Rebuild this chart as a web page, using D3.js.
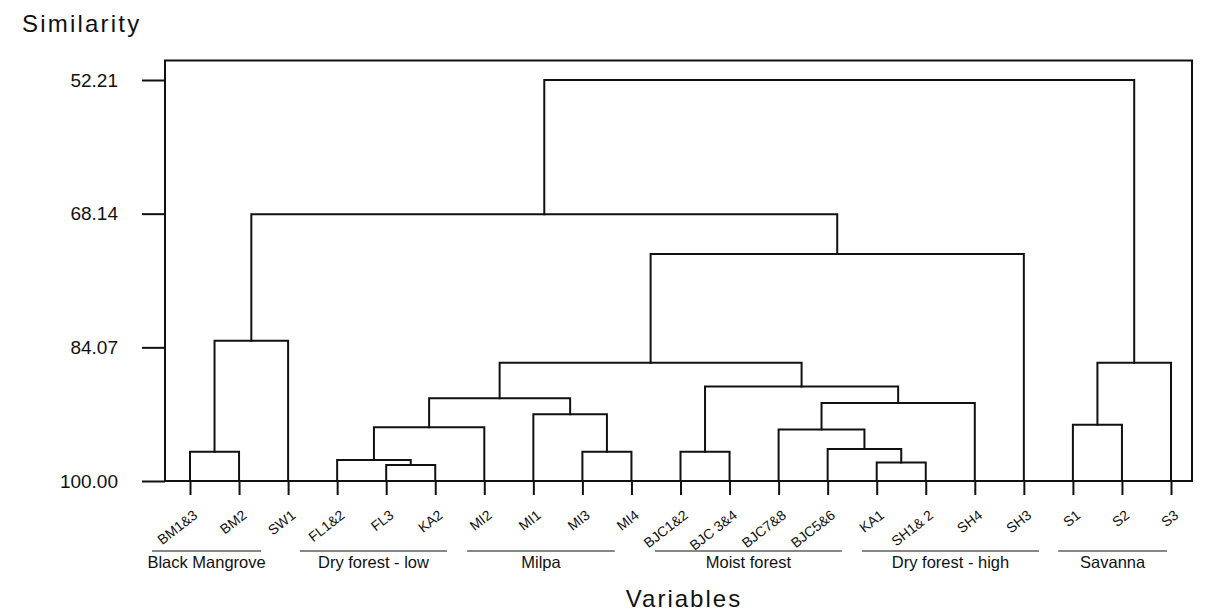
<!DOCTYPE html>
<html>
<head>
<meta charset="utf-8">
<script src="https://cdn.jsdelivr.net/npm/d3@7"></script>
<style>
  html, body { margin: 0; padding: 0; background: #fff; }
  svg { display: block; font-family: "Liberation Sans", Arial, sans-serif; }
</style>
</head>
<body>
<svg id="chart" width="1211" height="614"></svg>
<script>
// ---- data ----
const leaves = ["BM1&3","BM2","SW1","FL1&2","FL3","KA2","MI2","MI1","MI3","MI4",
  "BJC1&2","BJC 3&4","BJC7&8","BJC5&6","KA1","SH1& 2","SH4","SH3","S1","S2","S3"];
// merges: node "m<i>" joins mergeLeft[i] and mergeRight[i] at mergeSim[i]
const mergeLeft  = ["BM1&3","m0","FL3","FL1&2","m3","MI3","MI1","m4","BJC1&2","KA1",
  "BJC5&6","BJC7&8","m11","m8","m7","m14","m1","S1","m17","m16"];
const mergeRight = ["BM2","SW1","KA2","m2","MI2","MI4","m5","m6","BJC 3&4","SH1& 2",
  "m9","m10","SH4","m12","m13","SH3","m15","S2","S3","m18"];
const mergeSim   = [96.5,83.3,98.1,97.5,93.6,96.5,92.05,90.15,96.5,97.8,
  96.2,93.85,90.7,88.75,85.9,72.95,68.2,93.3,85.9,52.21];
const yTicks = [52.21, 68.14, 84.07, 100.00];
// groups, spans in leaf-index units
const groupNames = ["Black Mangrove","Dry forest - low","Milpa","Moist forest","Dry forest - high","Savanna"];
const groupStart = [-0.775, 2.24, 5.65, 9.48, 13.70, 17.70];
const groupEnd   = [1.45, 5.24, 8.66, 13.29, 17.31, 19.92];

// ---- layout ----
const svg = d3.select("#chart");
const frame = {left: 165, right: 1192, top: 60.5, bottom: 481};
const x = d3.scalePoint().domain(leaves).range([190, 1171]);
const xi = d3.scaleLinear().domain([0, leaves.length - 1]).range([190, 1171]);
const y = d3.scaleLinear().domain([52.21, 100]).range([80, 481]);
const ink = "#111";
const ff = "'Liberation Sans', Arial, sans-serif";

// frame
svg.append("rect")
  .attr("x", frame.left).attr("y", frame.top)
  .attr("width", frame.right - frame.left).attr("height", frame.bottom - frame.top)
  .attr("fill", "none").attr("stroke", ink).attr("stroke-width", 2);

// left axis
const gy = svg.append("g").attr("transform", `translate(${frame.left},0)`)
  .call(d3.axisLeft(y).tickValues(yTicks).tickSize(23).tickPadding(24).tickFormat(d3.format(".2f")));
gy.select(".domain").remove();
gy.selectAll(".tick line").attr("stroke", ink).attr("stroke-width", 2);
gy.selectAll(".tick text").attr("fill", ink).style("font-size", "19px").style("font-family", ff);

// bottom axis
const gx = svg.append("g").attr("transform", `translate(0,${frame.bottom})`)
  .call(d3.axisBottom(x).tickSize(14).tickPadding(0));
gx.select(".domain").remove();
gx.selectAll(".tick line").attr("stroke", ink).attr("stroke-width", 2);
gx.selectAll(".tick text")
  .attr("fill", ink)
  .style("font-size", "14px")
  .style("font-family", ff)
  .attr("text-anchor", "end")
  .attr("dy", null)
  .attr("y", null)
  .attr("transform", "translate(8,36) rotate(-38)");

// dendrogram
const pos = {};
leaves.forEach(l => pos[l] = {x: x(l), y: y(100)});
const links = [];
mergeSim.forEach((s, i) => {
  const a = pos[mergeLeft[i]], b = pos[mergeRight[i]];
  const ym = y(s);
  pos["m" + i] = {x: (a.x + b.x) / 2, y: ym};
  links.push(`M${a.x},${a.y}V${ym}H${b.x}V${b.y}`);
});
svg.append("g").selectAll("path").data(links).join("path")
  .attr("d", d => d).attr("fill", "none").attr("stroke", ink)
  .attr("stroke-width", 2).attr("stroke-linejoin", "miter").attr("stroke-linecap", "square");

// groups
const gg = svg.append("g");
groupNames.forEach((n, i) => {
  const x0 = xi(groupStart[i]), x1 = xi(groupEnd[i]);
  gg.append("line").attr("x1", x0).attr("x2", x1).attr("y1", 551).attr("y2", 551)
    .attr("stroke", ink).attr("stroke-width", 1.2);
  gg.append("text").attr("x", (x0 + x1) / 2).attr("y", 568)
    .attr("text-anchor", "middle").attr("fill", ink).style("font-size", "16.5px").text(n);
});

// titles
svg.append("text").attr("x", 22).attr("y", 32).attr("fill", ink)
  .style("font-size", "24px").style("letter-spacing", "2.2px").text("Similarity");
svg.append("text").attr("x", 684).attr("y", 607).attr("text-anchor", "middle").attr("fill", ink)
  .style("font-size", "24px").style("letter-spacing", "2px").text("Variables");
</script>
</body>
</html>
